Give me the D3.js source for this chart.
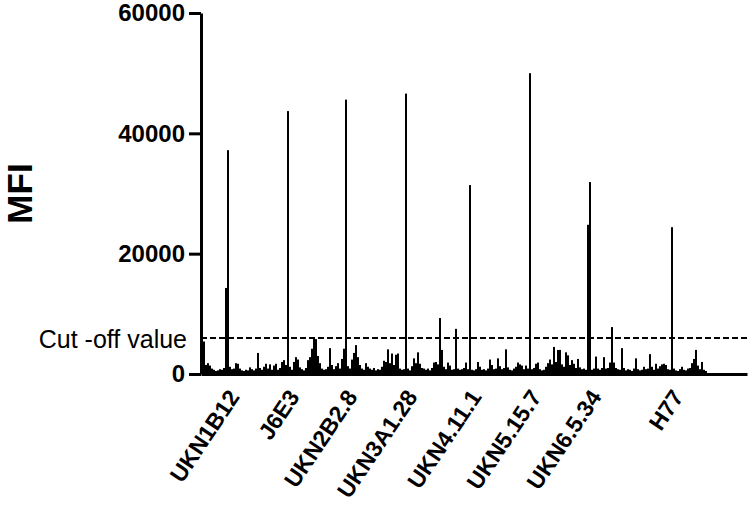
<!DOCTYPE html>
<html>
<head>
<meta charset="utf-8">
<script src="https://cdn.jsdelivr.net/npm/d3@7"></script>
<style>
  body { margin: 0; background: #fff; }
  text { font-family: "Liberation Sans", Arial, sans-serif; fill: #000; }
</style>
</head>
<body>
<div class="canvas"></div>
<script>
// MFI per well, in plate order (one entry per sample)
const mfi = [
  5600, 5400, 1500, 1800, 1400, 900, 700, 500, 600, 800,
  700, 1000, 14300, 37200, 1200, 800, 900, 1800, 1700, 900,
  600, 500, 700, 600, 1100, 800, 600, 900, 3500, 1000,
  700, 1200, 1700, 900, 1600, 700, 1400, 1700, 700, 1000,
  2000, 2300, 1500, 43700, 1200, 700, 2000, 2800, 2400, 1100,
  800, 600, 1000, 2300, 2800, 4200, 6000, 5800, 3000, 1800,
  900, 700, 800, 1200, 4300, 1500, 800, 1300, 1800, 900,
  2500, 4200, 45600, 1300, 900, 2400, 3500, 4800, 2800, 1500,
  900, 700, 1800, 1200, 900, 700, 1000, 600, 800, 700,
  1200, 2200, 2000, 4100, 1800, 3400, 1500, 3200, 3400, 900,
  700, 800, 46600, 900, 600, 1300, 2600, 1800, 3600, 1700,
  1000, 900, 700, 900, 600, 1000, 1900, 2000, 1600, 9300,
  4000, 1200, 800, 1900, 1400, 700, 800, 7500, 900, 700,
  800, 1000, 1900, 800, 31400, 700, 600, 800, 2000, 1200,
  700, 800, 600, 900, 2400, 1500, 800, 900, 2600, 1300,
  800, 1000, 4100, 1100, 700, 600, 900, 1200, 1900, 1600,
  1400, 800, 1400, 900, 50000, 800, 1000, 1700, 1900, 800,
  600, 700, 1200, 1800, 2400, 1600, 4500, 2000, 4000, 4000,
  1600, 1200, 3600, 3100, 1500, 2300, 1700, 1000, 2500, 1100,
  800, 900, 700, 24800, 31900, 700, 900, 2900, 900, 700,
  1000, 2800, 900, 1000, 1900, 7800, 1900, 1000, 800, 700,
  4300, 1000, 600, 800, 700, 500, 900, 2600, 800, 600,
  700, 1200, 800, 900, 3300, 1200, 700, 1700, 900, 1300,
  1600, 1700, 1500, 800, 700, 24400, 900, 600, 500, 800,
  1200, 700, 600, 900, 1000, 1800, 2500, 4000, 1400, 800,
  2000, 700, 500
];

// antibody names and the well where each one sits
const antibodies = ["UKN1B12", "J6E3", "UKN2B2.8", "UKN3A1.28", "UKN4.11.1", "UKN5.15.7", "UKN6.5.34", "H77"];
const antibodyWell = [13, 43, 72, 102, 134, 164, 194, 235];

const yTicks = [0, 20000, 40000, 60000];
const cutOff = 6000;
const nSlots = 273;

//dimensions
const width = 750, height = 505;
const plot = {left: 201, right: 747, top: 13, bottom: 374};

const svg = d3.select(".canvas").append("svg")
    .attr("width", width)
    .attr("height", height);

const x = d3.scaleLinear().domain([0, nSlots]).range([plot.left, plot.right]);
const y = d3.scaleLinear().domain([0, 60000]).range([plot.bottom, plot.top]);

//bars
svg.append("g")
  .selectAll("rect")
  .data(mfi)
  .enter()
  .append("rect")
    .attr("x", (d, i) => x(i))
    .attr("y", d => y(d))
    .attr("width", (d, i) => x(i + 1) - x(i))
    .attr("height", d => y(0) - y(d))
    .style("fill", "#000");

//cut-off line
svg.append("line")
    .attr("x1", x(0)).attr("x2", x(nSlots))
    .attr("y1", y(cutOff)).attr("y2", y(cutOff))
    .attr("stroke", "#000")
    .attr("stroke-width", 2)
    .attr("stroke-dasharray", "6,3");

svg.append("text")
    .attr("x", 187)
    .attr("y", y(cutOff) + 10)
    .attr("text-anchor", "end")
    .style("font-size", "25px")
    .text("Cut -off value");

//y axis
const yAxis = d3.axisLeft(y)
    .tickValues(yTicks)
    .tickFormat(d3.format("d"))
    .tickSize(12)
    .tickSizeOuter(0)
    .tickPadding(4);

const yAxisGroup = svg.append("g")
    .attr("transform", `translate(${plot.left}, 0)`)
    .call(yAxis);
yAxisGroup.selectAll("path, line").attr("stroke", "#000").attr("stroke-width", 3);
yAxisGroup.selectAll("text")
    .style("font-size", "24px")
    .style("font-weight", "bold")
    .style("font-family", "'Liberation Sans', Arial, sans-serif");

//x axis
const xAxis = d3.axisBottom(x)
    .tickValues(antibodyWell)
    .tickFormat((d, i) => antibodies[i])
    .tickSize(0)
    .tickSizeOuter(0);

const xAxisGroup = svg.append("g")
    .attr("transform", `translate(0, ${plot.bottom})`)
    .call(xAxis);
xAxisGroup.select(".domain").attr("stroke", "#000").attr("stroke-width", 3);
xAxisGroup.selectAll("text")
    .attr("x", 0).attr("y", 0).attr("dy", 0)
    .attr("text-anchor", "end")
    .attr("transform", "translate(13, 23) rotate(-56)")
    .style("font-size", "23px")
    .style("font-weight", "bold")
    .style("font-family", "'Liberation Sans', Arial, sans-serif");

//y title
svg.append("text")
    .attr("transform", `translate(32, ${(plot.top + plot.bottom) / 2}) rotate(-90)`)
    .attr("text-anchor", "middle")
    .style("font-size", "35px")
    .style("font-weight", "bold")
    .text("MFI");
</script>
</body>
</html>
